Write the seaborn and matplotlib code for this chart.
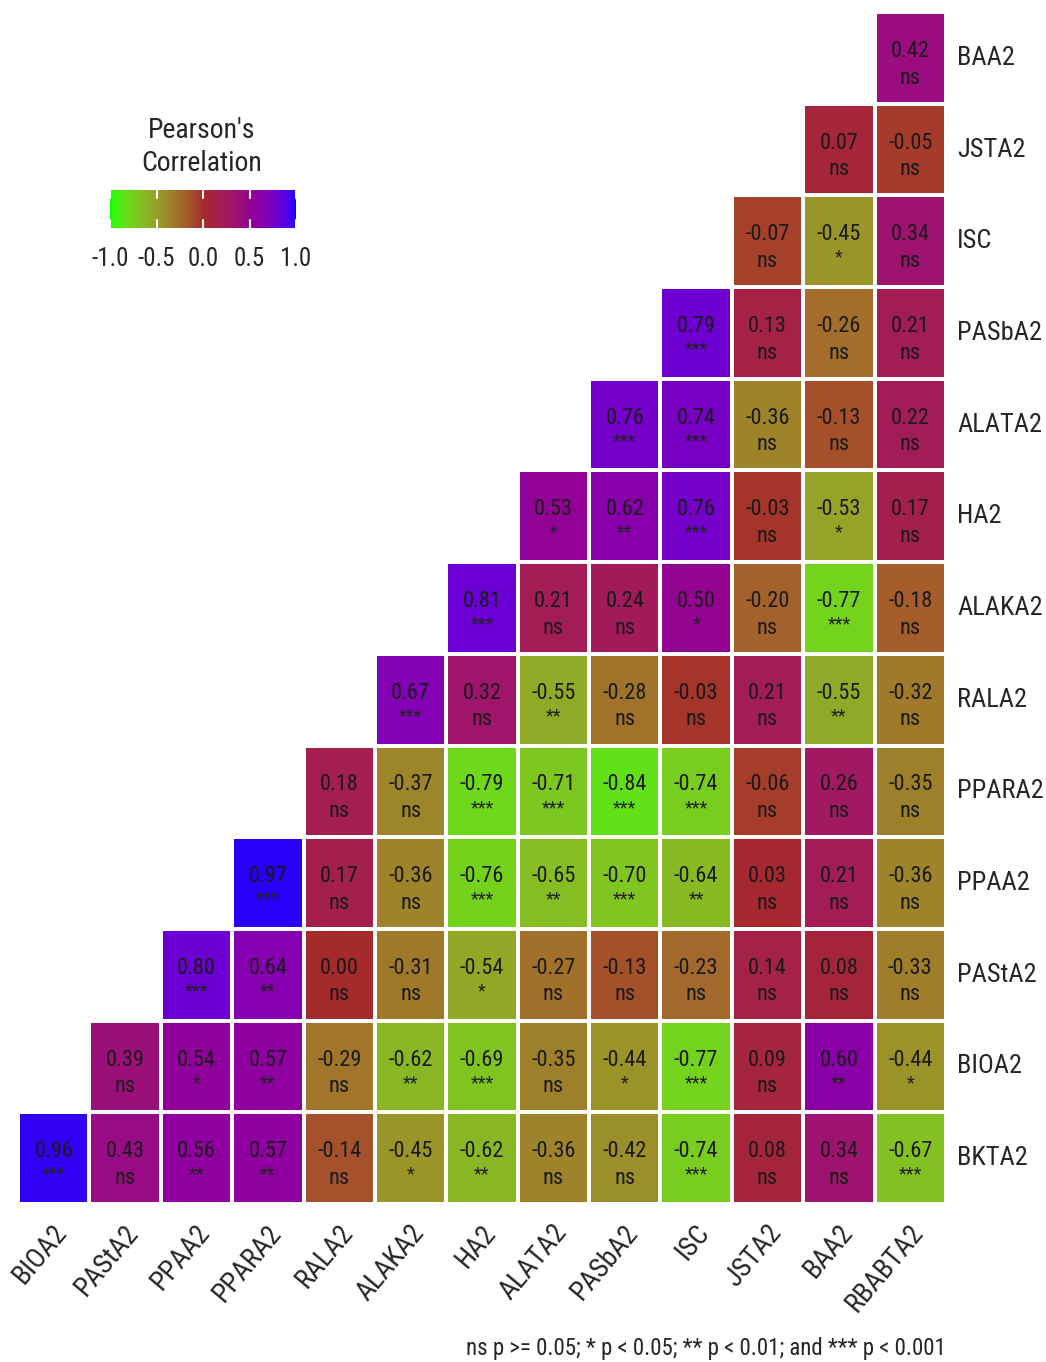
import numpy as np
import pandas as pd
import matplotlib
matplotlib.use("Agg")
import matplotlib.pyplot as plt
import seaborn as sns
from matplotlib.colors import ListedColormap
from matplotlib import font_manager as fm

# ---------------- data ----------------
row_labels = ["BAA2", "JSTA2", "ISC", "PASbA2", "ALATA2", "HA2", "ALAKA2",
              "RALA2", "PPARA2", "PPAA2", "PAStA2", "BIOA2", "BKTA2"]
col_labels = ["BIOA2", "PAStA2", "PPAA2", "PPARA2", "RALA2", "ALAKA2", "HA2",
              "ALATA2", "PASbA2", "ISC", "JSTA2", "BAA2", "RBABTA2"]

# each row lists values for the right-most (i+1) columns
corr_values = [
    [0.42],
    [0.07, -0.05],
    [-0.07, -0.45, 0.34],
    [0.79, 0.13, -0.26, 0.21],
    [0.76, 0.74, -0.36, -0.13, 0.22],
    [0.53, 0.62, 0.76, -0.03, -0.53, 0.17],
    [0.81, 0.21, 0.24, 0.50, -0.20, -0.77, -0.18],
    [0.67, 0.32, -0.55, -0.28, -0.03, 0.21, -0.55, -0.32],
    [0.18, -0.37, -0.79, -0.71, -0.84, -0.74, -0.06, 0.26, -0.35],
    [0.97, 0.17, -0.36, -0.76, -0.65, -0.70, -0.64, 0.03, 0.21, -0.36],
    [0.80, 0.64, 0.00, -0.31, -0.54, -0.27, -0.13, -0.23, 0.14, 0.08, -0.33],
    [0.39, 0.54, 0.57, -0.29, -0.62, -0.69, -0.35, -0.44, -0.77, 0.09, 0.60, -0.44],
    [0.96, 0.43, 0.56, 0.57, -0.14, -0.45, -0.62, -0.36, -0.42, -0.74, 0.08, 0.34, -0.67],
]
signif_labels = [
    ["ns"],
    ["ns", "ns"],
    ["ns", "*", "ns"],
    ["***", "ns", "ns", "ns"],
    ["***", "***", "ns", "ns", "ns"],
    ["*", "**", "***", "ns", "*", "ns"],
    ["***", "ns", "ns", "*", "ns", "***", "ns"],
    ["***", "ns", "**", "ns", "ns", "ns", "**", "ns"],
    ["ns", "ns", "***", "***", "***", "***", "ns", "ns", "ns"],
    ["***", "ns", "ns", "***", "**", "***", "**", "ns", "ns", "ns"],
    ["***", "**", "ns", "ns", "*", "ns", "ns", "ns", "ns", "ns", "ns"],
    ["ns", "*", "**", "ns", "**", "***", "ns", "*", "***", "ns", "**", "*"],
    ["***", "ns", "**", "**", "ns", "*", "**", "ns", "ns", "***", "ns", "ns", "***"],
]
cbar_ticks = [-1.0, -0.5, 0.0, 0.5, 1.0]
caption = "ns p >= 0.05; * p < 0.05; ** p < 0.01; and *** p < 0.001"

n = len(row_labels)
mat = np.full((n, n), np.nan)
sig = np.full((n, n), "", dtype=object)
for i, (vals, sigs) in enumerate(zip(corr_values, signif_labels)):
    start = n - len(vals)
    for k, (v, s) in enumerate(zip(vals, sigs)):
        mat[i, start + k] = v
        sig[i, start + k] = s
df = pd.DataFrame(mat, index=row_labels, columns=col_labels)

# ---------------- colormap: green -> brown -> blue in Lab ----------------
def srgb_to_lab(rgb):
    rgb = np.asarray(rgb, float)
    lin = np.where(rgb <= 0.04045, rgb / 12.92, ((rgb + 0.055) / 1.055) ** 2.4)
    M = np.array([[0.4124564, 0.3575761, 0.1804375],
                  [0.2126729, 0.7151522, 0.0721750],
                  [0.0193339, 0.1191920, 0.9503041]])
    xyz = M @ lin
    wp = np.array([0.95047, 1.0, 1.08883])
    t = xyz / wp
    f = np.where(t > (6 / 29) ** 3, np.cbrt(t), t / (3 * (6 / 29) ** 2) + 4 / 29)
    return np.array([116 * f[1] - 16, 500 * (f[0] - f[1]), 200 * (f[1] - f[2])])

def lab_to_srgb(lab):
    L, a, b = lab
    fy = (L + 16) / 116
    fx = fy + a / 500
    fz = fy - b / 200
    f = np.array([fx, fy, fz])
    d = 6 / 29
    t = np.where(f > d, f ** 3, 3 * d ** 2 * (f - 4 / 29))
    xyz = t * np.array([0.95047, 1.0, 1.08883])
    Minv = np.array([[3.2404542, -1.5371385, -0.4985314],
                     [-0.9692660, 1.8760108, 0.0415560],
                     [0.0556434, -0.2040259, 1.0572252]])
    lin = np.clip(Minv @ xyz, 0, 1)
    rgb = np.where(lin <= 0.0031308, 12.92 * lin, 1.055 * lin ** (1 / 2.4) - 0.055)
    return np.clip(rgb, 0, 1)

low = srgb_to_lab([0.0, 1.0, 0.0])
mid = srgb_to_lab([165 / 255, 42 / 255, 42 / 255])
high = srgb_to_lab([0.0, 0.0, 1.0])
cols = []
for t in np.linspace(0, 1, 256):
    if t <= 0.5:
        lab = low + (mid - low) * (t / 0.5)
    else:
        lab = mid + (high - mid) * ((t - 0.5) / 0.5)
    cols.append(lab_to_srgb(lab))
cmap = ListedColormap(cols)

# ---------------- font choice (narrow if available) ----------------
sns.set_style("white")
avail = fm.fontManager.ttflist
narrow = None
for want in ["Liberation Sans Narrow", "Arial Narrow", "Roboto Condensed",
             "Open Sans Condensed", "Noto Sans Condensed"]:
    if any(f.name == want for f in avail):
        narrow = (want, "normal")
        break
if narrow is None:
    for f in avail:
        if f.name in ("DejaVu Sans", "Noto Sans", "Open Sans", "Roboto") and \
                str(f.stretch) in ("condensed", "semi-condensed", "extra-condensed"):
            narrow = (f.name, str(f.stretch))
            break
if narrow is not None:
    plt.rcParams["font.family"] = [narrow[0], "DejaVu Sans"]
    plt.rcParams["font.stretch"] = narrow[1]
    scale = 1.0
else:
    plt.rcParams["font.family"] = ["Liberation Sans", "DejaVu Sans"]
    scale = 0.82

W, H = 1046, 1362
fig = plt.figure(figsize=(W / 100, H / 100), dpi=100)
ax = fig.add_axes([18 / W, 1 - 1204 / H, 928 / W, 1192 / H])

sns.heatmap(df, cmap=cmap, vmin=-1, vmax=1, linewidths=1.5, linecolor="white",
            cbar=False, ax=ax, square=False)

txt_color = "#1a1a1a"
for i in range(n):
    for j in range(n):
        v = mat[i, j]
        if np.isnan(v):
            continue
        ax.text(j + 0.5, i + 0.43, f"{v:.2f}", ha="center", va="center",
                fontsize=16 * scale, color=txt_color)
        s = sig[i, j]
        if s == "ns":
            ax.text(j + 0.5, i + 0.72, s, ha="center", va="center",
                    fontsize=16 * scale, color=txt_color)
        else:
            ax.text(j + 0.5, i + 0.68, s, ha="center", va="center",
                    fontsize=13 * scale, color="#222222")

ax.yaxis.tick_right()
ax.set_yticks(np.arange(n) + 0.5)
ax.set_yticklabels(row_labels, rotation=0, fontsize=19 * scale, ha="left", va="center")
ax.set_xticks(np.arange(n) + 0.48)
ax.set_xticklabels(col_labels, rotation=50, ha="right", va="top",
                   rotation_mode="anchor", fontsize=20 * scale)
ax.tick_params(axis="both", length=0)
ax.tick_params(axis="y", pad=8)
ax.tick_params(axis="x", pad=11)
ax.set_xlabel("")
ax.set_ylabel("")
for sp in ax.spines.values():
    sp.set_visible(False)

# ---------------- colorbar legend ----------------
cax = fig.add_axes([110 / W, 1 - 228 / H, 186 / W, 38 / H])
grad = np.linspace(-1, 1, 256)[None, :]
cax.imshow(grad, aspect="auto", cmap=cmap, vmin=-1, vmax=1,
           extent=[-1, 1, 0, 1])
for tk in cbar_ticks:
    cax.plot([tk, tk], [0, 0.2], color="white", lw=1.5)
    cax.plot([tk, tk], [0.8, 1], color="white", lw=1.5)
cax.set_xlim(-1.0, 1.0)
cax.set_ylim(0, 1)
cax.set_yticks([])
cax.set_xticks(cbar_ticks)
cax.set_xticklabels([f"{t:.1f}" for t in cbar_ticks], fontsize=18 * scale)
cax.tick_params(axis="x", length=0, pad=14)
for sp in cax.spines.values():
    sp.set_visible(False)

fig.text(202 / W, 1 - 147 / H, "Pearson's\nCorrelation", ha="center", va="center",
         multialignment="center", fontsize=20 * scale, linespacing=1.25)

fig.text(946 / W, 1 - 1348 / H, caption, ha="right", va="center", fontsize=16.5 * scale)

fig.savefig("out.png", dpi=100)
